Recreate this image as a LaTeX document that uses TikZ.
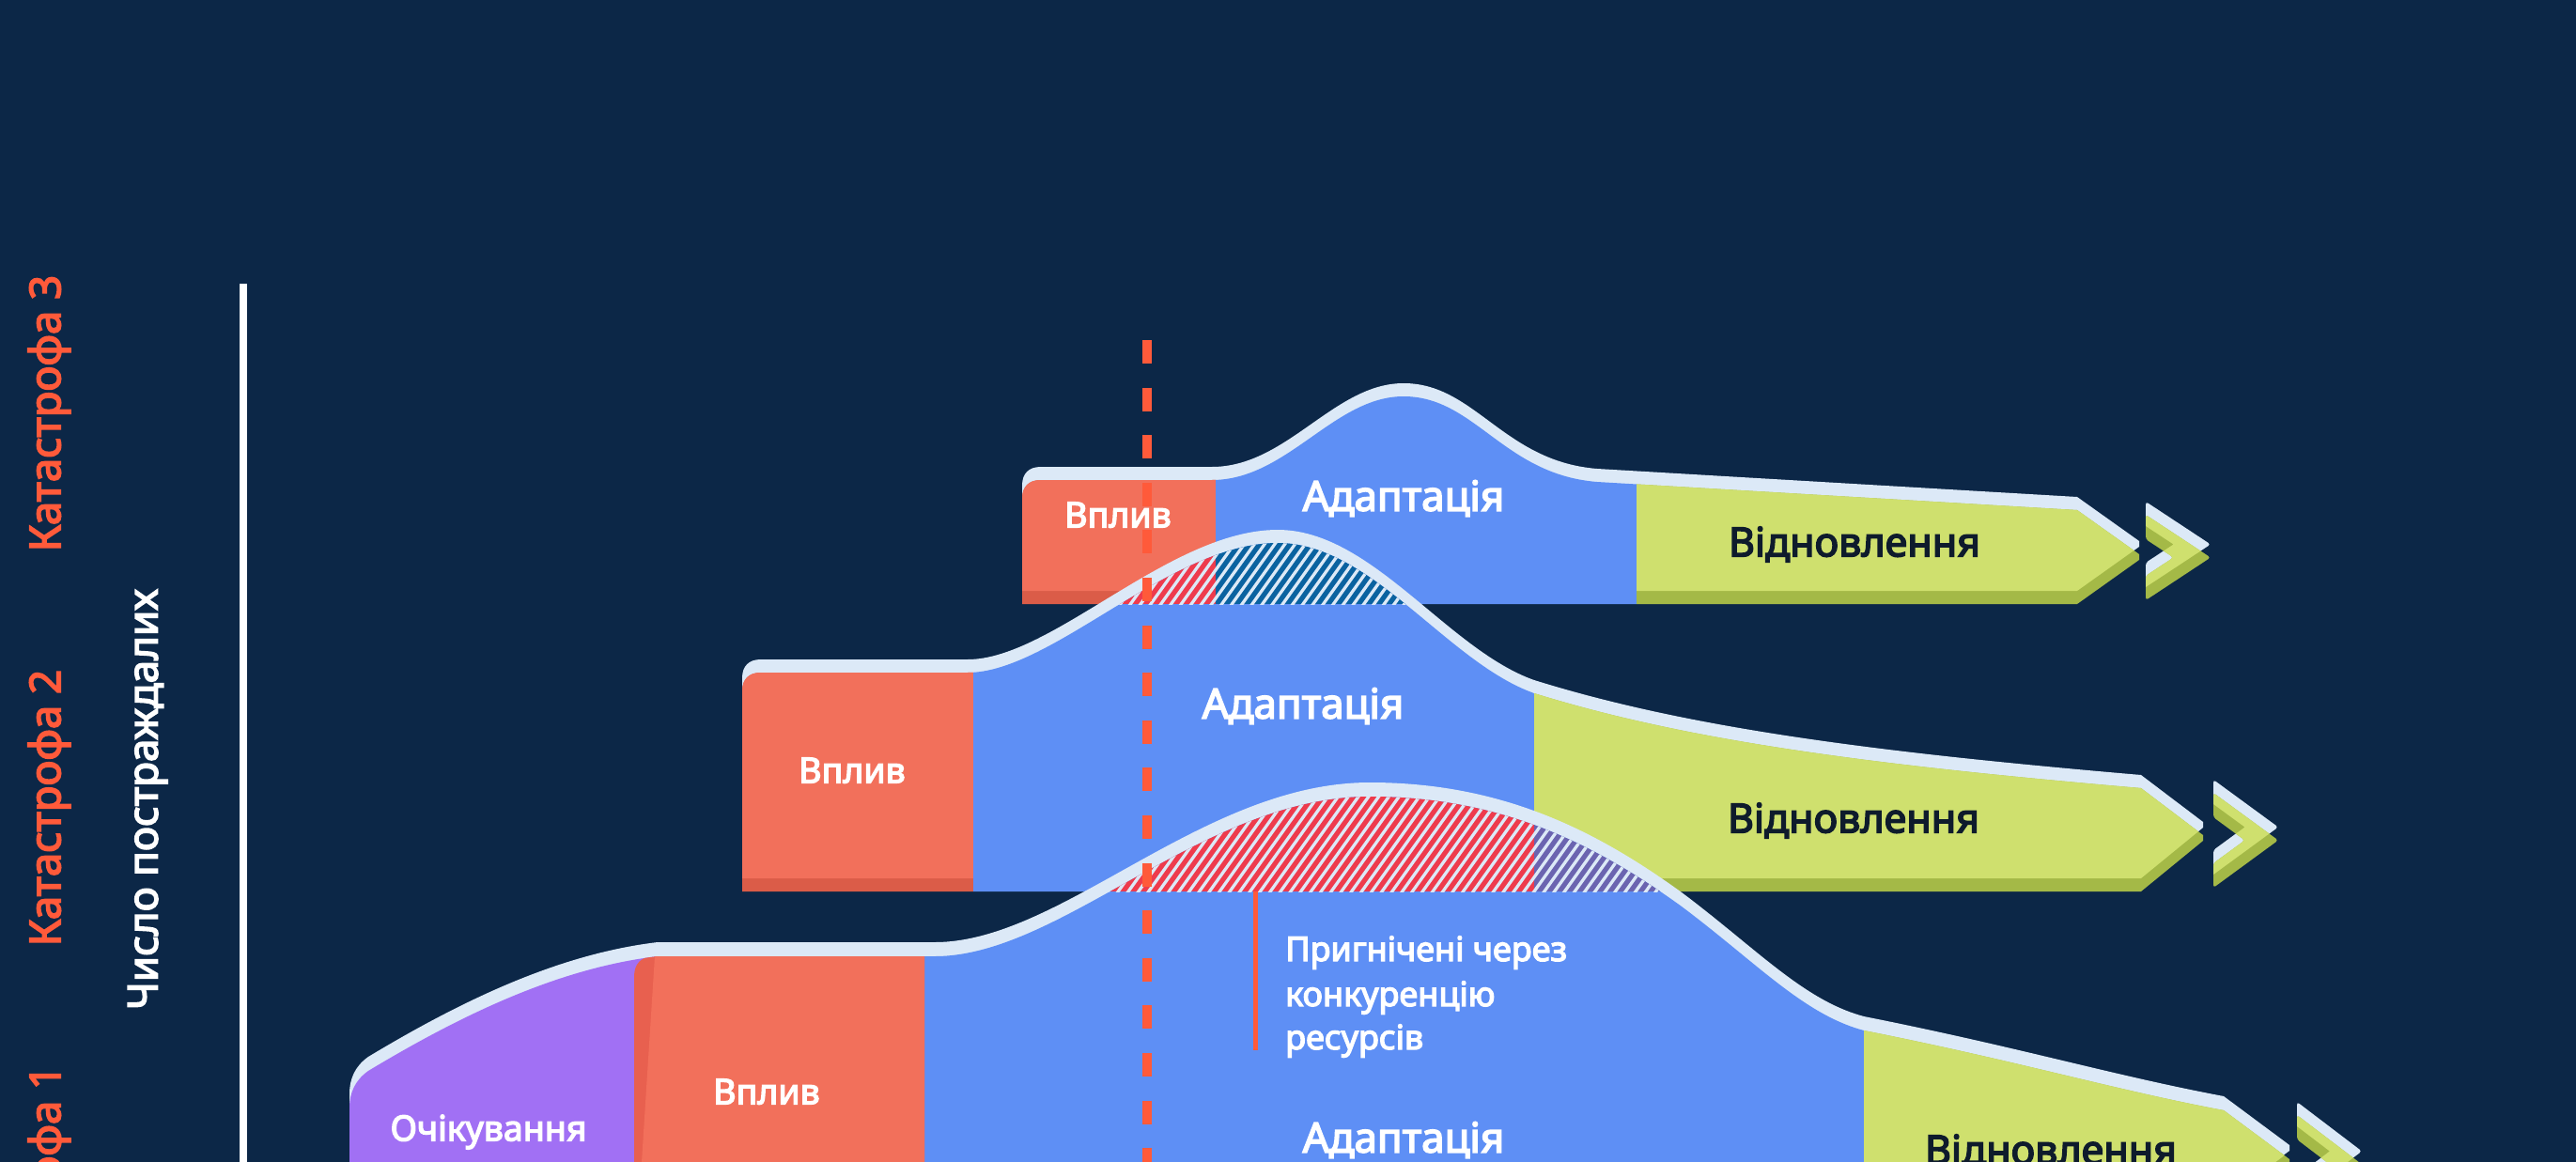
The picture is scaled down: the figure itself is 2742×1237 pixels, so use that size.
\documentclass[tikz,border=0pt]{standalone}
\usepackage{fontspec}
\setmainfont{Noto Sans}[AutoFakeBold=3.6]
\definecolor{bgc}{HTML}{0C2747}
\definecolor{lightc}{HTML}{DCE9F7}
\definecolor{redF}{HTML}{F2705B}
\definecolor{redD}{HTML}{DB5C48}
\definecolor{redS}{HTML}{E8604F}
\definecolor{blueF}{HTML}{5E8FF5}
\definecolor{greenF}{HTML}{CFE06E}
\definecolor{greenD}{HTML}{A4B947}
\definecolor{purpF}{HTML}{A170F4}
\definecolor{hatchR}{HTML}{EE3B4D}
\definecolor{hatchB}{HTML}{0A62A0}
\definecolor{hatchP}{HTML}{6B64B0}
\definecolor{accent}{HTML}{FF5A3A}
\definecolor{darktxt}{HTML}{0E1B2C}

% band outlines (fill-top coordinates, pixel units, y downwards)
\newcommand\bandC{(1088,643) -- (1088,531) .. controls (1088,518) and (1095,511) .. (1108,511) -- (1290,511) .. controls (1370,511) and (1420,422) .. (1494,422) .. controls (1570,422) and (1600,505) .. (1700,513) -- (2211,543) -- (2277,590) -- (2277,596) -- (2211,643) -- cycle}
\newcommand\bandB{(790,949) -- (790,736) .. controls (790,723) and (797,716) .. (810,716) -- (1030,716) .. controls (1120,716) and (1245,578) .. (1360,578) .. controls (1460,578) and (1540,705) .. (1633,738) .. controls (1800,790) and (2000,815) .. (2279,839) -- (2345,889) -- (2345,895) -- (2279,949) -- cycle}
\newcommand\bandA{(372,1300) -- (372,1180) .. controls (372,1163) and (378,1150) .. (392,1140) .. controls (500,1075) and (600,1030) .. (700,1018) -- (995,1018) .. controls (1130,1018) and (1280,848) .. (1458,848) .. controls (1600,848) and (1700,900) .. (1790,965) .. controls (1870,1025) and (1920,1080) .. (1984,1097) .. controls (2150,1130) and (2250,1160) .. (2367,1182) -- (2437,1234) -- (2437,1240) -- (2367,1292) -- cycle}
\newcommand\chev[3]{(#1,#2) -- ++(69,{#3/2}) -- ++(-69,{#3/2}) -- ++(0,-26) -- ++({69*(1-52/#3)},{-(#3/2-26)}) -- ++({-69*(1-52/#3)},{-(#3/2-26)}) -- cycle}
\newcommand\drawchev[3]{%
  \begin{scope}[shift={(0,-14)}]\fill[lightc,rounded corners=3pt] \chev{#1}{#2}{#3};\end{scope}
  \fill[greenD,rounded corners=3pt] \chev{#1}{#2}{#3};
  \begin{scope}\clip[rounded corners=3pt] \chev{#1}{#2}{#3};
    \begin{scope}[shift={(0,-14)}]\fill[greenF] \chev{#1}{#2}{#3};\end{scope}
  \end{scope}}

\begin{document}
\begin{tikzpicture}[x=1pt,y=-1pt,
  wtxt/.style={text=white,inner sep=0pt,text depth=0pt},
  dtxt/.style={text=darktxt,inner sep=0pt,text depth=0pt},
  fsA/.style={font=\bfseries\fontsize{37.5}{44}\selectfont,text height=26.8pt},
  fsB/.style={font=\bfseries\fontsize{44}{52}\selectfont,text height=31.4pt},
  fsC/.style={font=\bfseries\fontsize{43}{50}\selectfont,text height=30.7pt},
  side/.style={font=\bfseries\fontsize{45.5}{52}\selectfont,text height=32.5pt,text depth=0pt,inner sep=0pt,rotate=90,text=accent},
  ylabel/.style={font=\bfseries\fontsize{44}{52}\selectfont,text height=31.4pt,text depth=0pt,inner sep=0pt,rotate=90,text=white},
  anno/.style={font=\bfseries\fontsize{36}{46}\selectfont,text=white,inner sep=0pt,anchor=base west},
  hatchline/.style={lightc,line width=3.3pt},
  dashln/.style={accent,line width=10pt,dash pattern=on 25pt off 25.6pt},
  annoline/.style={accent,line width=5pt}]
\useasboundingbox (0,0) rectangle (2742,1237);
\clip (0,0) rectangle (2742,1237);
\fill[bgc] (0,0) rectangle (2742,1237);

% axis
\coordinate (axTop) at (259,302);
\coordinate (axBot) at (259,1240);
\draw[white,line width=8pt] (axTop) -- (axBot);

% side labels
\node[side] (k3) at (48,440) {Катастрофа 3};
\node[side] (k2) at (48,860) {Катастрофа 2};
\node[side] (k1) at (48,1281) {Катастрофа 1};
\node[ylabel] (ylab) at (152,851) {Число постраждалих};

% ---------------- band 3 ----------------
\begin{scope}[shift={(0,-14)}]\fill[lightc] \bandC;\end{scope}
\begin{scope}
  \clip \bandC;
  \fill[redD] (1000,300) rectangle (1294,700);
  \fill[blueF] (1294,300) rectangle (1742,700);
  \fill[greenD] (1742,300) rectangle (2400,700);
  \begin{scope}[shift={(0,-14)}]
    \clip \bandC;
    \fill[redF] (1000,300) rectangle (1294,720);
    \fill[greenF] (1742,300) rectangle (2400,720);
  \end{scope}
\end{scope}
\drawchev{2284}{548}{91}

% ---------------- band 2 ----------------
\begin{scope}[shift={(0,-14)}]\fill[lightc] \bandB;\end{scope}
\begin{scope}
  \clip \bandB;
  \fill[redD] (700,500) rectangle (1036,1000);
  \fill[blueF] (1036,500) rectangle (1633,1000);
  \fill[greenD] (1633,500) rectangle (2500,1000);
  \begin{scope}[shift={(0,-14)}]
    \clip \bandB;
    \fill[redF] (700,500) rectangle (1036,1020);
    \fill[greenF] (1633,500) rectangle (2500,1020);
  \end{scope}
\end{scope}
\drawchev{2356}{844}{101}

% hatch: band 2 over band 3
\begin{scope}
  \clip \bandB;
  \clip (1000,300) rectangle (1800,643);
  \fill[hatchR] (1000,300) rectangle (1294,643);
  \fill[hatchB] (1294,300) rectangle (1800,643);
  \foreach \k in {0,...,75} \draw[hatchline] ({1040+\k*10.8},660) -- ++(160,-224);
\end{scope}

% ---------------- band 1 ----------------
\begin{scope}[shift={(0,-15)}]\fill[lightc] \bandA;\end{scope}
\begin{scope}
  \clip \bandA;
  \fill[purpF] (300,900) rectangle (700,1400);
  \fill[blueF] (984,800) rectangle (1984,1400);
  \fill[greenD] (1984,800) rectangle (2600,1400);
  \begin{scope}[shift={(0,-14)}]
    \clip \bandA;
    \fill[greenF] (1984,800) rectangle (2600,1420);
  \end{scope}
  \fill[redS] (675,1400) -- (675,1040) .. controls (675,1026) and (682,1018) .. (697,1018) -- (984,1018) -- (984,1400) -- cycle;
  \fill[redF] (697,1018) -- (984,1018) -- (984,1300) -- (679,1300) -- cycle;
\end{scope}
\drawchev{2445}{1187}{105}

% hatch: band 1 over band 2
\begin{scope}
  \clip \bandA;
  \clip (1100,800) rectangle (1850,949);
  \fill[hatchR] (1100,800) rectangle (1633,949);
  \fill[hatchP] (1633,800) rectangle (1850,949);
  \foreach \k in {0,...,80} \draw[hatchline] ({1060+\k*10.8},965) -- ++(160,-224);
\end{scope}

% dashed marker
\coordinate (dTop) at (1221,362);
\coordinate (dBot) at (1221,1240);
\draw[dashln] (dTop) -- (dBot);

% annotation
\coordinate (annTop) at (1336,949);
\coordinate (annBot) at (1336,1118);
\draw[annoline] (annTop) -- (annBot);
\node[anno] (ann1) at (1368,1023) {Пригнічені через};
\node[anno] (ann2) at (1368,1071) {конкуренцію};
\node[anno] (ann3) at (1368,1117) {ресурсів};

% band texts
\node[wtxt,fsA] (v3) at (1190,548) {Вплив};
\node[wtxt,fsB] (a3) at (1494,528) {Адаптація};
\node[dtxt,fsC] (r3) at (1974,577) {Відновлення};
\node[wtxt,fsA] (v2) at (907,820) {Вплив};
\node[wtxt,fsB] (a2) at (1387,749) {Адаптація};
\node[dtxt,fsC] (r2) at (1973,871) {Відновлення};
\node[wtxt,fsA] (v1) at (816,1162) {Вплив};
\node[wtxt,fsA] (o1) at (520,1201) {Очікування};
\node[wtxt,fsB] (a1) at (1494,1211) {Адаптація};
\node[dtxt,fsC] (r1) at (2183,1224) {Відновлення};
\end{tikzpicture}
\end{document}
